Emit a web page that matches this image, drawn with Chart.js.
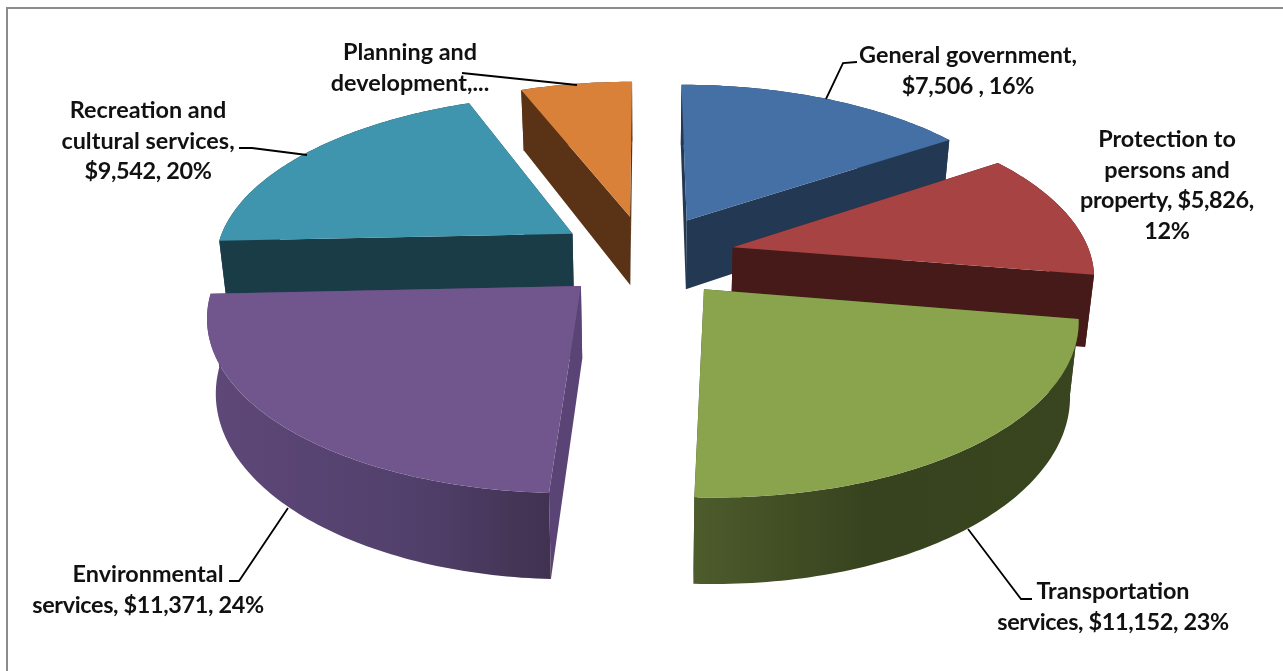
<!DOCTYPE html>
<html>
<head>
<meta charset="utf-8">
<title>Operating expenses by function</title>
<script src="https://cdn.jsdelivr.net/npm/chart.js@4/dist/chart.umd.min.js"></script>
<style>
  html, body { margin: 0; padding: 0; background: #fff; overflow: hidden; }
  canvas { display: block; }
</style>
</head>
<body>
<canvas id="chart" width="1283" height="671"></canvas>
<script>
// Spending by function, thousands of dollars
const categories = [
  'General government',
  'Protection to persons and property',
  'Transportation services',
  'Environmental services',
  'Recreation and cultural services',
  'Planning and development'
];
const amounts = [7506, 5826, 11152, 11371, 9542, 2860];

// Data label lines per slice
const labelLines = [
  ['General government,', '$7,506 , 16%'],
  ['Protection to', 'persons and', 'property, $5,826,', '12%'],
  ['Transportation', 'services, $11,152, 23%'],
  ['Environmental', 'services, $11,371, 24%'],
  ['Recreation and', 'cultural services,', '$9,542, 20%'],
  ['Planning and', 'development,...']
];

const topColors = ['#4570a6', '#a84343', '#8aa44e', '#70568c', '#4095ae', '#d98139'];
const cutColors = ['#223853', '#451a18', '#38451f', '#5a4475', '#1a3c47', '#5a3317'];
const wallStops = [
  [[0, '#223853'], [1, '#223853']],
  [[0, '#451a18'], [1, '#451a18']],
  [[0, '#4e5b2c'], [0.45, '#36431e'], [1, '#38451f']],
  [[0, '#5e4878'], [0.6, '#52406c'], [1, '#403250']],
  [[0, '#1a3c47'], [1, '#1a3c47']],
  [[0, '#5a3317'], [1, '#5a3317']]
];

// Label anchors (centre x, first baseline) and leader polylines
const labelAnchors = [[968, 63], [1167, 147], [1113, 599], [148, 582], [148, 118], [410, 60]];
const leaders = [
  [[826, 99], [843, 63], [857, 62]],
  null,
  [[968, 529], [1021, 599], [1032, 599]],
  [[288, 508], [239, 581], [229, 581]],
  [[307, 155], [252, 148], [239, 148]],
  [[462, 73], [577, 85]]
];
const LINE_HEIGHT = 30.6;
const LABEL_FONT = 'bold 23.4px Lato, sans-serif';

// Camera for the tilted pie: ground radius is 1, explosion is radial
const view = { cx: 646, cy: 256, bx: 358, by: 166, k: 0.15, explode: 0.25, depth: 71, pinch: 0.98 };

function project(theta, radius, mid, lower) {
  const u = view.explode * Math.sin(mid) + radius * Math.sin(theta);
  const v = -view.explode * Math.cos(mid) - radius * Math.cos(theta);
  const s = 1 / (1 - view.k * v);
  let x = view.cx + view.bx * u * s;
  let y = view.cy + view.by * v * s;
  if (lower) {
    x = view.cx + (x - view.cx) * view.pinch;
    y += view.depth * s;
  }
  return [x, y];
}

function arcPoints(a0, a1, mid, lower) {
  const pts = [];
  const steps = Math.max(2, Math.ceil((a1 - a0) / (Math.PI / 180)));
  for (let i = 0; i <= steps; i++) {
    pts.push(project(a0 + (a1 - a0) * i / steps, 1, mid, lower));
  }
  return pts;
}

function fillPoly(ctx, pts, fill) {
  ctx.beginPath();
  pts.forEach((p, i) => (i ? ctx.lineTo(p[0], p[1]) : ctx.moveTo(p[0], p[1])));
  ctx.closePath();
  ctx.fillStyle = fill;
  ctx.fill();
}

// Renders the library's arc elements as exploded solid wedges
const solidPie = {
  id: 'solidPie',
  beforeDatasetsDraw(chart) {
    const ctx = chart.ctx;
    const slices = chart.getDatasetMeta(0).data.map((arc, i) => {
      const p = arc.getProps(['startAngle', 'endAngle']);
      const a0 = p.startAngle + Math.PI / 2;
      const a1 = p.endAngle + Math.PI / 2;
      return { i, a0, a1, mid: (a0 + a1) / 2 };
    });
    slices.sort((a, b) => -Math.cos(a.mid) + Math.cos(b.mid));
    ctx.save();
    slices.forEach(({ i, a0, a1, mid }) => {
      const apexTop = project(0, 0, mid, false);
      const apexLow = project(0, 0, mid, true);
      const top = arcPoints(a0, a1, mid, false);
      const low = arcPoints(a0, a1, mid, true);
      // cut faces
      fillPoly(ctx, [apexTop, top[0], low[0], apexLow], cutColors[i]);
      fillPoly(ctx, [apexTop, top[top.length - 1], low[low.length - 1], apexLow], cutColors[i]);
      // outer wall with a horizontal shade
      const xs = top.map(q => q[0]);
      const grad = ctx.createLinearGradient(Math.min(...xs), 0, Math.max(...xs), 0);
      wallStops[i].forEach(([o, c]) => grad.addColorStop(o, c));
      fillPoly(ctx, top.concat(low.slice().reverse()), grad);
      // top surface
      fillPoly(ctx, [apexTop].concat(top), topColors[i]);
    });
    ctx.restore();
    return false;
  },
  afterDraw(chart) {
    const ctx = chart.ctx;
    ctx.save();
    // chart frame
    ctx.strokeStyle = '#8c8c8c';
    ctx.lineWidth = 2;
    ctx.beginPath();
    ctx.moveTo(7, 671);
    ctx.lineTo(7, 8);
    ctx.lineTo(1283, 8);
    ctx.stroke();
    // leader lines
    ctx.strokeStyle = '#000';
    ctx.lineWidth = 1.8;
    leaders.forEach(line => {
      if (!line) return;
      ctx.beginPath();
      line.forEach((p, i) => (i ? ctx.lineTo(p[0], p[1]) : ctx.moveTo(p[0], p[1])));
      ctx.stroke();
    });
    // data labels; lines holding figures are tightened a little
    ctx.fillStyle = '#111';
    ctx.font = LABEL_FONT;
    ctx.textAlign = 'center';
    ctx.textBaseline = 'alphabetic';
    labelLines.forEach((lines, i) => {
      lines.forEach((t, j) => {
        ctx.letterSpacing = /\d/.test(t) ? '-0.35px' : '0px';
        ctx.fillText(t, labelAnchors[i][0], labelAnchors[i][1] + j * LINE_HEIGHT);
      });
    });
    ctx.restore();
  }
};

new Chart(document.getElementById('chart'), {
  type: 'pie',
  data: {
    labels: categories,
    datasets: [{ data: amounts, backgroundColor: topColors }]
  },
  options: {
    responsive: false,
    animation: false,
    events: [],
    plugins: { legend: { display: false }, tooltip: { enabled: false } }
  },
  plugins: [solidPie]
});
</script>
</body>
</html>
